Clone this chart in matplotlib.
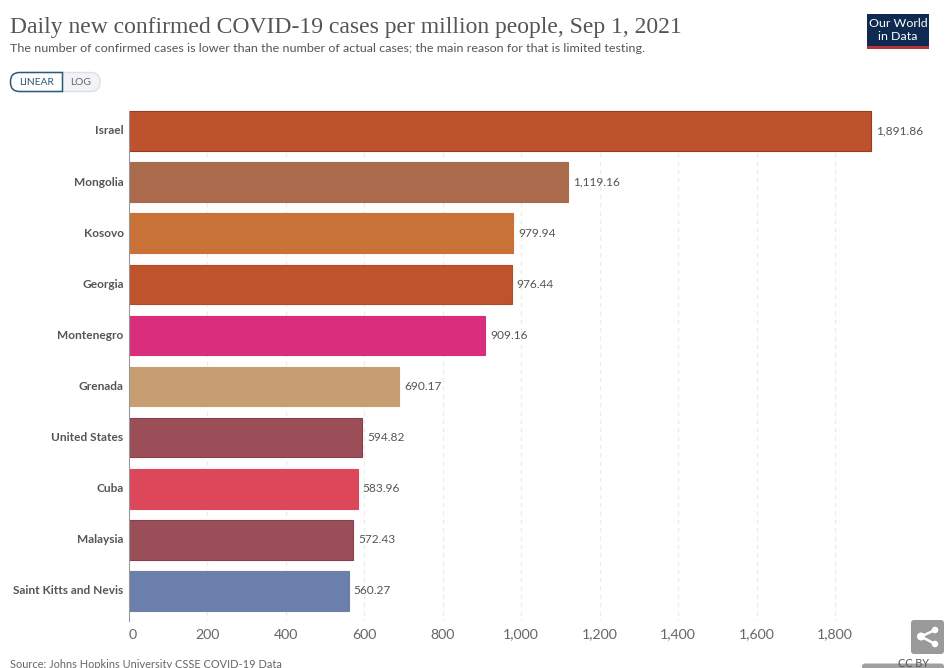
import matplotlib
matplotlib.use('Agg')
import matplotlib.pyplot as plt
from matplotlib.patches import FancyBboxPatch, Rectangle, Circle, PathPatch
from matplotlib.path import Path
from matplotlib.lines import Line2D

W, H = 946, 668

countries = ['Israel', 'Mongolia', 'Kosovo', 'Georgia', 'Montenegro', 'Grenada',
             'United States', 'Cuba', 'Malaysia', 'Saint Kitts and Nevis']
cases = [1891.86, 1119.16, 979.94, 976.44, 909.16, 690.17, 594.82, 583.96, 572.43, 560.27]
bar_colors = ['#BC532C', '#A96B4C', '#C97238', '#BF532C', '#D92E7C', '#C79E72',
              '#9B4E58', '#DD475A', '#994E58', '#6A80AB']
edge_colors = ['#9A3A20', '#A96B4C', '#C97238', '#B04A28', '#D92E7C', '#C79E72',
               '#8A3F4A', '#DD475A', '#8A3F4A', '#6A80AB']
x_ticks = [0, 200, 400, 600, 800, 1000, 1200, 1400, 1600, 1800]

plt.rcParams['font.family'] = ['Lato', 'DejaVu Sans']

fig = plt.figure(figsize=(W / 100, H / 100), dpi=100, facecolor='white')

# axes placed in pixels: x=0 at 129, 1800 at 836, rows centred 131 to 591
px_per_unit = (835.5 - 129) / 1800
ax = fig.add_axes([128.6 / W, 1 - 621 / H, (940 - 128.6) / W, (621 - 105) / H])
ax.set_xlim(0, (940 - 128.6) / px_per_unit)
row = 51.11
ax.set_ylim((621 - 131) / row, (105 - 131) / row)
y_top, y_bottom = (111 - 131) / row, (621 - 131) / row

ax.vlines(x_ticks[1:], y_top, y_bottom, color='#ebebeb', lw=1, ls=(0, (3, 3)), zorder=0)

ax.barh(range(len(cases)), cases, height=39.5 / row, color=bar_colors,
        edgecolor=edge_colors, linewidth=0.8, zorder=2)

for i, (name, val) in enumerate(zip(countries, cases)):
    ax.annotate(f'{val:,.2f}', (val, i), xytext=(5, 0), textcoords='offset pixels',
                ha='left', va='center', fontsize=8.6, color='#555555', zorder=3)
    ax.annotate(name, (0, i), xytext=(-5, 0), textcoords='offset pixels',
                ha='right', va='center', fontsize=8.6, fontweight='bold', color='#555555')

for s in ['top', 'right', 'bottom']:
    ax.spines[s].set_visible(False)
ax.spines['left'].set_color('#999999')
ax.spines['left'].set_bounds(y_top, y_bottom)
ax.set_yticks([])
ax.set_xticks(x_ticks)
ax.set_xticklabels([f'{t:,}' for t in x_ticks], fontsize=10.2, color='#666666')
ax.get_xticklabels()[0].set_ha('left')
ax.tick_params(axis='x', length=0, pad=5.5)
ax.patch.set_alpha(0)


def put(x, y, s, **kw):
    # text at figure pixel position, y measured from the top
    fig.text(x / W, 1 - y / H, s, **kw)


# overlay for header/footer pieces, in pixel coordinates
ov = fig.add_axes([0, 0, 1, 1], facecolor='none')
ov.set_xlim(0, W)
ov.set_ylim(H, 0)
ov.axis('off')

put(10, 28, 'Daily new confirmed COVID-19 cases per million people, Sep 1, 2021',
    family=['Liberation Serif'], fontsize=17.05, color='#555555', va='center', ha='left')
put(10, 48.5, 'The number of confirmed cases is lower than the number of actual cases; '
    'the main reason for that is limited testing.',
    fontsize=8.98, color='#555555', va='center', ha='left')

# LINEAR / LOG toggle
ov.add_patch(FancyBboxPatch((20, 72.5), 80, 19, boxstyle='round,pad=0,rounding_size=9',
                            fc='#f2f3f6', ec='#dcdfe5', lw=1))
left, right, top, bot, r = 10.5, 62.5, 72.5, 91.5, 9
toggle = Path([(right, top), (left + r, top), (left, top), (left, top + r),
               (left, bot - r), (left, bot), (left + r, bot), (right, bot), (right, top)],
              [Path.MOVETO, Path.LINETO, Path.CURVE3, Path.CURVE3,
               Path.LINETO, Path.CURVE3, Path.CURVE3, Path.LINETO, Path.CLOSEPOLY])
ov.add_patch(PathPatch(toggle, fc='white', ec='#2b5a78', lw=1.1))
put(36.5, 82.5, 'LINEAR', fontsize=7.4, color='#2b5a78', ha='center', va='center', zorder=5)
put(81, 82.5, 'LOG', fontsize=7.4, color='#666666', ha='center', va='center', zorder=5)

# logo
ov.add_patch(Rectangle((867, 14), 62, 35, fc='#0f2a50', ec='none'))
ov.add_patch(Rectangle((867, 45.5), 62, 3.5, fc='#b4343c', ec='none'))
put(898, 23.5, 'Our World', fontsize=8.9, color='white', ha='center', va='center')
put(898, 36.5, 'in Data', fontsize=8.9, color='white', ha='center', va='center')

# footer
put(10, 664, 'Source: Johns Hopkins University CSSE COVID-19 Data',
    fontsize=7.93, color='#666666', va='center', ha='left')
ov.add_patch(FancyBboxPatch((862, 663.5), 82, 8, boxstyle='round,pad=0,rounding_size=3',
                            fc='#a0a0a0', ec='none'))
put(913, 663.5, 'CC BY', fontsize=7.8, color='#555555', ha='center', va='center', zorder=5)

# share button
ov.add_patch(FancyBboxPatch((911, 620), 33, 34, boxstyle='round,pad=0,rounding_size=3',
                            fc='#9a9a9a', ec='none'))
knots = [(935, 630), (921, 636.5), (935, 644)]
ov.add_line(Line2D([knots[0][0], knots[1][0], knots[2][0]], [knots[0][1], knots[1][1], knots[2][1]],
                   color='white', lw=1.8))
for c, r in zip(knots, [3.3, 4, 3.3]):
    ov.add_patch(Circle(c, r, fc='white', ec='none'))

fig.savefig('out.png', dpi=100)
